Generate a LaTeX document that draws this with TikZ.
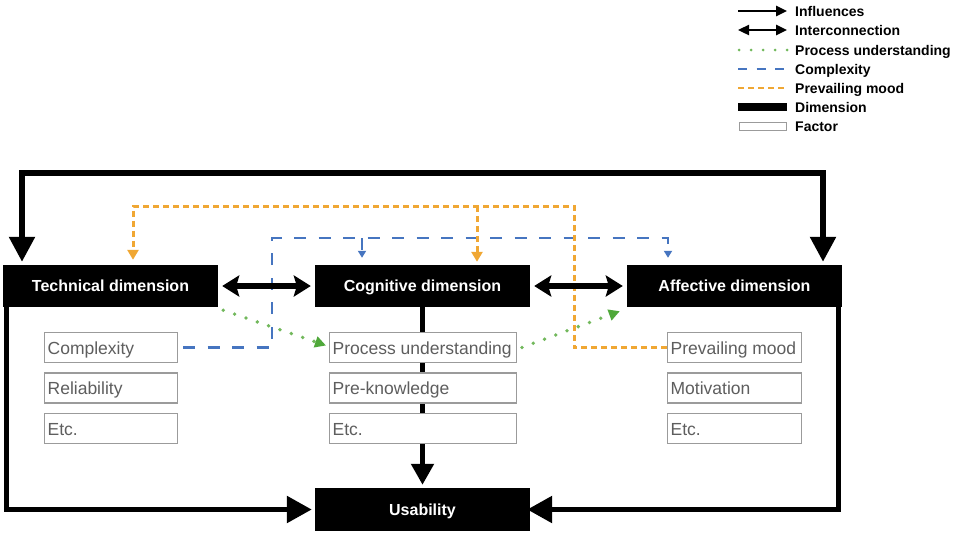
\documentclass[tikz,border=0pt]{standalone}
\usepackage{fontspec}
\setmainfont{Liberation Sans}
\usetikzlibrary{arrows.meta,calc}
\definecolor{moodorange}{HTML}{F0A733}
\definecolor{cplxblue}{HTML}{4675C0}
\definecolor{procgreen}{HTML}{72B85C}
\definecolor{procgreentip}{HTML}{4FA83A}
\definecolor{factorgray}{HTML}{9B9B9B}
\definecolor{factortext}{HTML}{5E5E5E}

\begin{document}
\begin{tikzpicture}[x=1pt,y=-1pt,
  dim/.style={fill=black, text=white, inner sep=0pt, minimum width=215pt,
    minimum height=42pt, text height=11.6pt, text depth=0pt,
    font=\fontsize{16pt}{18pt}\selectfont\bfseries},
  factor/.style={draw=factorgray, line width=1.3pt, fill=white, inner xsep=3pt,
    inner ysep=0pt, minimum height=30pt, text height=13.5pt, text depth=0pt,
    text=factortext, font=\fontsize{17.5pt}{20pt}\selectfont,
    execute at begin node={\hbox to #1\bgroup},
    execute at end node={\hfil\egroup}},
  legtext/.style={anchor=west, inner sep=0pt, text height=10pt, text depth=0pt,
    font=\fontsize{14pt}{16pt}\selectfont\bfseries},
  bigline/.style={line width=5.5pt, black},
  bighead/.style={-{Triangle[length=25pt,width=26pt]}},
  twoway/.style={line width=6pt, black,
    {Stealth[length=17pt,width=21pt,inset=3pt]}-{Stealth[length=17pt,width=21pt,inset=3pt]},
    shorten <=4pt, shorten >=4pt},
  cplx/.style={cplxblue, line width=2.2pt, dash pattern=on 12pt off 12.5pt,
    -{Triangle[length=7pt,width=8pt]}},
  mood/.style={moodorange, line width=3pt, dash pattern=on 6pt off 4pt,
    -{Triangle[length=10pt,width=11pt]}},
  proc/.style={procgreen, line width=3.8pt, dash pattern=on 0pt off 12pt,
    line cap=round, -{Triangle[length=11pt,width=11pt,color=procgreentip]}},
]
\useasboundingbox (0,0) rectangle (960,533);

% dimensions
\node[dim] (tech) at (110.5,286) {Technical dimension};
\node[dim] (cog)  at (422.5,286) {Cognitive dimension};
\node[dim] (aff)  at (734.5,286) {Affective dimension};
\node[dim, minimum height=43pt] (usab) at (422.5,509.5) {Usability};

% turning points of the routed connectors
\coordinate (loopL) at (22,173);
\coordinate (loopR) at (823,173);
\coordinate (sideL) at (6.5,0);
\coordinate (sideR) at (838.5,0);
\coordinate (bUp)  at (272,238);
\coordinate (bCog) at (362,238);
\coordinate (bAff) at (668,238);
\coordinate (oTurn) at (574,206);
\coordinate (oCog)  at (477,206);
\coordinate (oTech) at (133,206);

% cognitive dimension feeds usability (runs behind the factor boxes)
\draw[bigline, line width=5pt, -{Triangle[length=21pt,width=22pt]}, shorten >=3pt]
  (cog.south) -- (usab.north);

% factors
\node[factor=126.7pt] (cx)  at (111,347.5)   {Complexity};
\node[factor=126.7pt] (rel) at (111,388)     {Reliability};
\node[factor=126.7pt] (etl) at (111,428.5)   {Etc.};
\node[factor=180.7pt] (pu)  at (423,347.5)   {Process understanding};
\node[factor=180.7pt] (pk)  at (423,388)     {Pre-knowledge};
\node[factor=180.7pt] (etm) at (423,428.5)   {Etc.};
\node[factor=127.7pt] (pm)  at (734.5,347.5) {Prevailing mood};
\node[factor=127.7pt] (mot) at (734.5,388)   {Motivation};
\node[factor=127.7pt] (etr) at (734.5,428.5) {Etc.};

% complexity
\draw[cplx, shorten <=5pt, shorten >=7pt]
  (cx.east) -| (bUp) -- (bAff) -- (aff.north -| bAff);
\draw[cplx, shorten >=7pt] (bCog) -- (cog.north -| bCog);

% prevailing mood
\draw[mood, shorten >=5pt]
  (pm.west) -| (oTurn) -- (oTech) -- (tech.north -| oTech);
\draw[mood, shorten >=3pt] (oCog) -- (cog.north -| oCog);

% process understanding
\draw[proc] ([shift={(5,3)}]tech.south east) -- ([shift={(-3,-2)}]pu.west);
\draw[proc] ([shift={(5,0)}]pu.east) -- ([shift={(-7,4)}]aff.south west);

% influences and interconnections between the dimensions
\draw[bigline, {Triangle[length=25pt,width=25pt]}-{Triangle[length=25pt,width=25pt]},
  shorten <=3pt, shorten >=3pt]
  (tech.north -| loopL) -- (loopL) -- (loopR) -- (aff.north -| loopR);
\draw[bigline, bighead, shorten >=3pt] (tech.south -| sideL) |- (usab.west);
\draw[bigline, bighead, shorten >=-3pt] (aff.south -| sideR) |- (usab.east);
\draw[twoway] (tech.east) -- (cog.west);
\draw[twoway] (cog.east) -- (aff.west);

% legend
\node[legtext] (lgInf)  at (795,11)  {Influences};
\node[legtext] (lgInt)  at (795,30)  {Interconnection};
\node[legtext] (lgProc) at (795,50)  {Process understanding};
\node[legtext] (lgCplx) at (795,69)  {Complexity};
\node[legtext] (lgMood) at (795,88)  {Prevailing mood};
\node[legtext] (lgDim)  at (795,107) {Dimension};
\node[legtext] (lgFac)  at (795,126) {Factor};

\draw[line width=2.4pt, -{Triangle[length=11pt,width=10pt]}]
  ([xshift=-57pt]lgInf.west) -- ([xshift=-8pt]lgInf.west);
\draw[line width=2.4pt, {Triangle[length=11pt,width=10pt]}-{Triangle[length=11pt,width=10pt]}]
  ([xshift=-57pt]lgInt.west) -- ([xshift=-8pt]lgInt.west);
\draw[procgreen, line width=3pt, dash pattern=on 0pt off 12pt, line cap=round]
  ([xshift=-56pt]lgProc.west) -- ([xshift=-7pt]lgProc.west);
\draw[cplxblue, line width=2pt, dash pattern=on 9pt off 9.5pt]
  ([xshift=-57pt]lgCplx.west) -- ([xshift=-8pt]lgCplx.west);
\draw[moodorange, line width=2.4pt, dash pattern=on 6pt off 4pt]
  ([xshift=-57pt]lgMood.west) -- ([xshift=-8pt]lgMood.west);
\node[fill=black, inner sep=0pt, minimum width=49pt, minimum height=8pt, anchor=east]
  (lgDimBar) at ([xshift=-8pt]lgDim.west) {};
\node[draw=factorgray, line width=1pt, inner sep=0pt, minimum width=47pt,
  minimum height=8pt, anchor=east] (lgFacBox) at ([xshift=-8pt]lgFac.west) {};
\end{tikzpicture}
\end{document}
